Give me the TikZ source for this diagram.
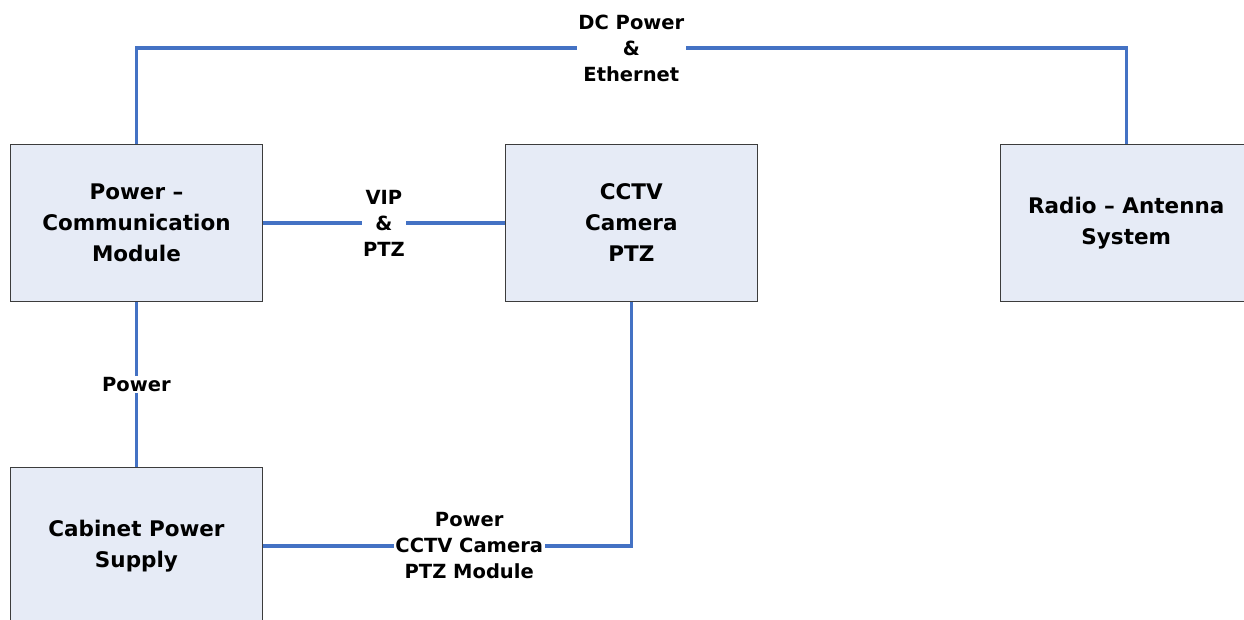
\documentclass[tikz,border=0pt]{standalone}
\usepackage{fontspec}
\setmainfont{DejaVu Sans}
\usepackage{xcolor}
\usetikzlibrary{positioning}
\definecolor{wireblue}{HTML}{4472C4}
\definecolor{boxfill}{RGB}{230,235,246}
\definecolor{boxline}{RGB}{60,60,60}

\begin{document}
\begin{tikzpicture}[
   unit/.style={draw=boxline, fill=boxfill, line width=0.9pt, align=center,
                font=\fontsize{21.5}{31}\selectfont\bfseries,
                minimum width=252pt, minimum height=157pt, inner sep=0pt},
   tag/.style={fill=white, align=center, inner sep=1.5pt,
               font=\fontsize{19.5}{26}\selectfont\bfseries},
   wire/.style={draw=wireblue, line width=3.5pt},
   node distance=242pt]
\useasboundingbox (0,0) rectangle (1244pt,-619pt);
\node[unit, anchor=north west] (pcm) at (10pt,-144pt) {Power --\\Communication\\Module};
\node[unit, right=of pcm] (cctv) {CCTV\\Camera\\PTZ};
\node[unit, right=of cctv] (rad) {Radio -- Antenna\\System};
\node[unit, below=165pt of pcm] (cab) {Cabinet Power\\Supply};
\coordinate (top) at ([yshift=96pt]pcm.north);
\draw[wire] (pcm.north) -- (top) -| node[tag, pos=0.25] {DC Power\\\&\\Ethernet} (rad.north);
\draw[wire] (pcm.east) -- node[tag] {VIP\\\&\\PTZ} (cctv.west);
\draw[wire] (pcm.south) -- node[tag] {Power} (cab.north);
\draw[wire] (cab.east) -| node[tag, pos=0.28] {Power\\CCTV Camera\\PTZ Module} (cctv.south);
\end{tikzpicture}
\end{document}
